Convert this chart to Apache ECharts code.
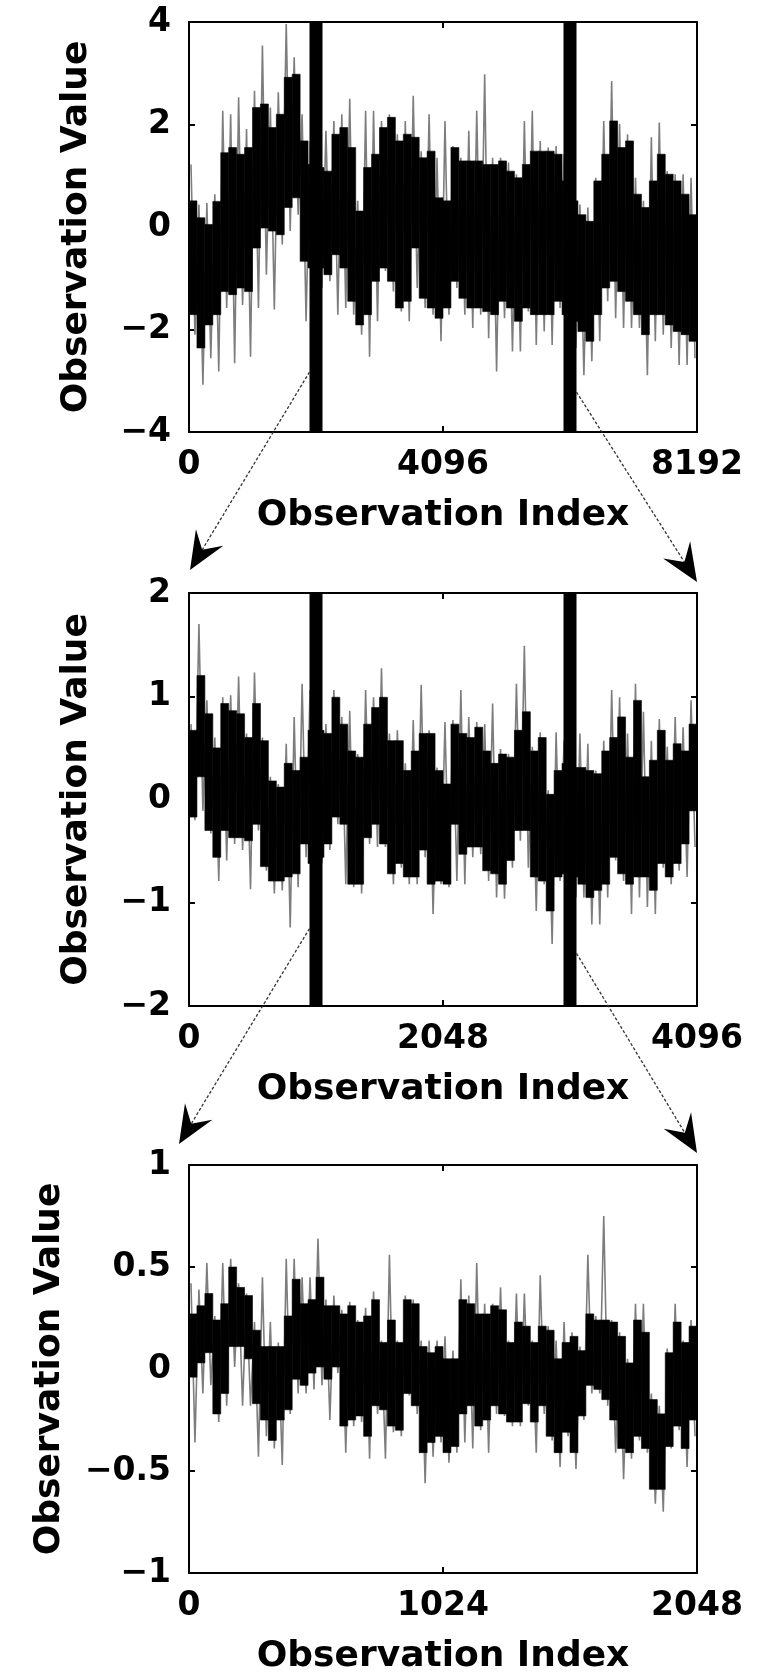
<!DOCTYPE html>
<html><head><meta charset="utf-8">
<script src="https://cdn.jsdelivr.net/npm/echarts@6/dist/echarts.min.js"></script>
<style>html,body{margin:0;padding:0;background:#fff}#c{width:777px;height:1676px}</style>
</head><body><div id="c"></div>
<script>
// ---------- tick labels ----------
const xTicks1 = [0, 4096, 8192];
const yTicks1 = [-4, -2, 0, 2, 4];
const xTicks2 = [0, 2048, 4096];
const yTicks2 = [-2, -1, 0, 1, 2];
const xTicks3 = [0, 1024, 2048];
const yTicks3 = [-1, -0.5, 0, 0.5, 1];
const xTitle = 'Observation Index';
const yTitle = 'Observation Value';
// zoom window markers (observation index)
const zoomBars1 = [2048, 6144];
const zoomBars2 = [1024, 3072];

// ---------- panel 1 (64 equal bins over 0..8192): spike extremes and dense core ----------
const p1SpikeHi = [1.22,0.44,0.47,0.64,2.27,2.20,2.53,1.91,2.66,3.54,2.33,2.63,3.96,3.31,2.20,1.68,1.88,1.88,2.07,2.20,2.50,0.51,2.27,2.27,2.07,2.20,1.81,2.07,2.56,1.48,2.20,1.35,2.07,1.58,1.35,1.88,2.27,2.98,1.35,1.35,1.26,1.03,2.07,2.27,1.68,1.55,1.58,1.42,0.77,0.44,0.38,0.96,2.07,2.85,2.01,1.81,0.96,0.51,1.75,2.04,1.09,1.03,1.03,0.96];
const p1CoreHi  = [0.51,0.18,0.05,0.50,1.45,1.55,1.42,1.55,2.33,2.40,1.94,2.20,2.92,2.98,1.68,1.22,1.16,1.09,1.81,1.94,1.55,0.31,1.16,1.42,1.94,2.14,1.68,1.81,1.75,1.35,1.48,0.57,0.51,1.55,1.29,1.29,1.29,1.22,1.22,1.29,1.09,0.96,1.22,1.48,1.48,1.48,1.42,0.90,0.51,0.24,0.11,0.90,1.42,2.07,1.55,1.68,0.64,0.38,0.90,1.42,1.03,0.90,0.64,0.24];
const p1CoreLo  = [-1.71,-2.36,-1.91,-1.71,-1.26,-1.32,-1.19,-1.26,-0.41,-0.02,-0.08,-0.15,0.38,0.57,-0.67,-0.80,-0.80,-0.93,-0.54,-0.80,-1.45,-1.91,-1.71,-1.06,-0.80,-1.06,-1.58,-1.45,-0.41,-1.39,-1.58,-1.78,-1.58,-1.06,-1.39,-1.58,-1.58,-1.65,-1.71,-1.45,-1.58,-1.84,-1.58,-1.71,-1.71,-1.71,-1.45,-1.71,-1.84,-2.04,-2.23,-1.71,-1.19,-1.06,-1.26,-1.45,-1.71,-2.10,-1.71,-1.71,-1.91,-2.04,-2.10,-2.23];
const p1SpikeLo = [-2.10,-3.08,-2.56,-2.82,-1.58,-2.66,-1.52,-2.53,-1.58,-0.93,-1.61,-0.34,-0.08,0.24,-1.84,-1.84,-1.19,-1.06,-1.71,-1.58,-1.71,-2.10,-2.53,-1.84,-0.86,-1.26,-1.65,-1.84,-1.19,-1.58,-1.71,-2.23,-1.71,-1.19,-1.71,-1.97,-1.71,-2.17,-2.82,-1.78,-2.43,-2.43,-1.65,-2.30,-2.04,-2.30,-1.58,-2.04,-2.36,-2.89,-2.62,-2.23,-1.45,-1.78,-1.97,-1.97,-1.97,-2.89,-2.23,-2.10,-2.36,-2.69,-2.69,-2.56];

// ---------- panel 2 (64 bins over 0..4096) ----------
const p2SpikeHi = [0.73,1.70,0.96,0.60,0.99,1.01,1.19,0.64,1.23,0.60,0.22,0.15,0.54,0.80,1.12,1.06,0.96,0.73,1.06,0.80,0.86,0.44,1.06,0.99,1.27,0.64,0.67,0.35,0.77,1.11,0.67,0.31,0.75,0.77,1.06,0.80,0.75,0.73,0.93,0.49,0.44,1.12,1.49,0.51,0.65,0.09,0.65,0.57,0.64,0.64,0.54,0.28,0.57,1.06,0.99,0.64,1.12,0.85,0.57,0.78,0.51,0.80,0.70,0.96];
const p2CoreHi  = [0.67,1.20,0.83,0.50,0.93,0.86,0.83,0.60,0.93,0.57,0.18,0.12,0.35,0.28,0.41,0.67,0.67,0.64,0.99,0.73,0.47,0.41,0.73,0.89,0.99,0.57,0.57,0.28,0.47,0.64,0.64,0.28,0.15,0.73,0.64,0.60,0.70,0.47,0.35,0.44,0.41,0.67,0.85,0.47,0.60,0.05,0.28,0.35,0.31,0.31,0.28,0.25,0.47,0.60,0.80,0.41,0.96,0.22,0.38,0.67,0.38,0.54,0.47,0.73];
const p2CoreLo  = [-0.17,0.22,-0.30,-0.56,-0.30,-0.37,-0.37,-0.40,-0.24,-0.65,-0.79,-0.79,-0.75,-0.72,-0.43,-0.62,-0.56,-0.43,-0.17,-0.24,-0.82,-0.82,-0.37,-0.24,-0.43,-0.72,-0.62,-0.75,-0.75,-0.49,-0.82,-0.79,-0.82,-0.24,-0.53,-0.46,-0.46,-0.69,-0.72,-0.82,-0.59,-0.30,-0.30,-0.75,-0.79,-1.08,-0.75,-0.72,-0.75,-0.82,-0.95,-0.88,-0.82,-0.56,-0.72,-0.82,-0.75,-0.75,-0.88,-0.62,-0.75,-0.62,-0.43,-0.11];
const p2SpikeLo = [-0.20,-0.11,-0.33,-0.79,-0.59,-0.43,-0.49,-0.87,-0.30,-0.69,-0.91,-0.88,-1.24,-0.85,-0.56,-0.72,-0.62,-0.49,-0.24,-0.82,-0.85,-0.91,-0.43,-0.46,-0.46,-0.82,-0.66,-0.82,-0.82,-0.56,-1.11,-0.82,-0.85,-0.79,-0.82,-0.56,-0.53,-0.79,-0.95,-0.96,-0.66,-0.40,-0.66,-1.08,-0.82,-1.40,-0.79,-0.88,-0.95,-0.95,-1.21,-1.21,-0.95,-0.59,-0.79,-1.11,-0.95,-1.04,-1.11,-0.66,-0.82,-0.69,-0.75,-0.46];

// ---------- panel 3 (64 bins over 0..2048) ----------
const p3SpikeHi = [0.42,0.39,0.52,0.26,0.52,0.54,0.42,0.37,0.23,0.45,0.23,0.13,0.54,0.54,0.45,0.45,0.64,0.34,0.36,0.29,0.33,0.24,0.30,0.38,0.14,0.56,0.14,0.36,0.34,0.14,0.14,0.14,0.16,0.09,0.44,0.36,0.52,0.32,0.32,0.40,0.14,0.37,0.37,0.14,0.46,0.21,0.14,0.23,0.18,0.11,0.56,0.26,0.75,0.24,0.18,0.05,0.32,0.32,-0.12,-0.18,0.10,0.32,0.14,0.24];
const p3CoreHi  = [0.27,0.31,0.37,0.24,0.32,0.50,0.40,0.36,0.19,0.11,0.11,0.11,0.26,0.44,0.32,0.34,0.45,0.31,0.31,0.27,0.31,0.23,0.26,0.34,0.13,0.24,0.13,0.34,0.32,0.11,0.08,0.11,0.05,0.05,0.34,0.32,0.27,0.27,0.31,0.29,0.13,0.23,0.21,0.13,0.21,0.19,0.05,0.13,0.16,0.09,0.27,0.24,0.24,0.23,0.16,0.03,0.24,0.18,-0.15,-0.22,0.08,0.23,0.13,0.21];
const p3CoreLo  = [-0.04,0.03,0.08,-0.22,-0.12,0.11,0.11,0.05,-0.17,-0.25,-0.35,-0.25,-0.20,-0.05,-0.08,-0.02,0.01,-0.05,0.01,-0.28,-0.25,-0.23,-0.33,-0.18,-0.20,-0.28,-0.30,-0.12,-0.18,-0.41,-0.36,-0.33,-0.41,-0.38,-0.22,-0.18,-0.28,-0.25,-0.18,-0.22,-0.26,-0.26,-0.17,-0.26,-0.18,-0.33,-0.41,-0.31,-0.41,-0.23,-0.08,-0.10,-0.15,-0.25,-0.39,-0.41,-0.33,-0.39,-0.59,-0.59,-0.38,-0.28,-0.39,-0.25];
const p3SpikeLo = [-0.36,-0.12,-0.08,-0.26,-0.18,0.01,-0.18,-0.18,-0.43,-0.33,-0.39,-0.47,-0.22,-0.12,-0.12,-0.10,-0.08,-0.25,-0.02,-0.41,-0.28,-0.26,-0.44,-0.22,-0.44,-0.31,-0.33,-0.13,-0.22,-0.56,-0.43,-0.36,-0.46,-0.41,-0.36,-0.39,-0.30,-0.41,-0.22,-0.23,-0.28,-0.28,-0.18,-0.41,-0.22,-0.35,-0.48,-0.33,-0.49,-0.25,-0.12,-0.12,-0.18,-0.41,-0.54,-0.44,-0.35,-0.41,-0.66,-0.70,-0.39,-0.30,-0.48,-0.33];

// ---------- layout ----------
const FONT = 'DejaVu Sans';
const panels = [
  {xt: xTicks1, yt: yTicks1, hi: p1SpikeHi, ch: p1CoreHi, cl: p1CoreLo, lo: p1SpikeLo, bars: zoomBars1, top: 22, height: 410, yGap: 94},
  {xt: xTicks2, yt: yTicks2, hi: p2SpikeHi, ch: p2CoreHi, cl: p2CoreLo, lo: p2SpikeLo, bars: zoomBars2, top: 593, height: 413, yGap: 94},
  {xt: xTicks3, yt: yTicks3, hi: p3SpikeHi, ch: p3CoreHi, cl: p3CoreLo, lo: p3SpikeLo, bars: [], top: 1165, height: 408, yGap: 121}
];

const grids = [], xAxes = [], yAxes = [], series = [];
const lblStyle = {fontFamily: FONT, fontWeight: 'bold', fontSize: 33, color: '#000'};
const nameStyle = {fontFamily: FONT, fontWeight: 'bold', fontSize: 36, color: '#000'};
const axLine = {show: true, onZero: false, lineStyle: {color: '#000', width: 2}};
const axTick = {show: true, inside: true, length: 6, lineStyle: {color: '#000', width: 2}};

panels.forEach((p, g) => {
  const xmin = p.xt[0], xmax = p.xt[p.xt.length - 1];
  const ymin = p.yt[0], ymax = p.yt[p.yt.length - 1];
  grids.push({left: 189, width: 508, top: p.top, height: p.height});
  const xBase = {gridIndex: g, type: 'value', min: xmin, max: xmax, interval: p.xt[1] - p.xt[0],
    axisLine: axLine, axisTick: axTick, splitLine: {show: false}};
  xAxes.push(Object.assign({}, xBase, {position: 'bottom',
    axisLabel: Object.assign({margin: 17, showMinLabel: true, showMaxLabel: true, formatter: v => String(v)}, lblStyle),
    name: xTitle, nameLocation: 'middle', nameGap: 66, nameTextStyle: nameStyle}));
  xAxes.push(Object.assign({}, xBase, {position: 'top', axisLabel: {show: false}}));
  const yBase = {gridIndex: g, type: 'value', min: ymin, max: ymax, interval: p.yt[1] - p.yt[0],
    axisLine: axLine, axisTick: axTick, splitLine: {show: false}};
  yAxes.push(Object.assign({}, yBase, {position: 'left',
    axisLabel: Object.assign({margin: 18, formatter: v => String(v).replace('-', '\u2212')}, lblStyle),
    name: yTitle, nameLocation: 'middle', nameRotate: 90, nameGap: p.yGap, nameTextStyle: nameStyle}));
  yAxes.push(Object.assign({}, yBase, {position: 'right', axisLabel: {show: false}}));

  const n = p.hi.length, w = (xmax - xmin) / n;
  // thin spikes: up to the spike high, down to the spike low in each bin
  const zig = [];
  for (let i = 0; i < n; i++) {
    zig.push([xmin + (i + 0.25) * w, p.hi[i]]);
    zig.push([xmin + (i + 0.75) * w, p.lo[i]]);
  }
  series.push({type: 'line', xAxisIndex: 2 * g, yAxisIndex: 2 * g, data: zig, showSymbol: false, symbol: 'none',
    lineStyle: {color: '#7d7d7d', width: 1.6}, animation: false, silent: true, z: 2});
  // dense black core: one column per bin
  const cols = [];
  for (let i = 0; i < n; i++) cols.push([xmin + i * w, xmin + (i + 1) * w, p.ch[i], p.cl[i]]);
  series.push({type: 'custom', xAxisIndex: 2 * g, yAxisIndex: 2 * g, data: cols, animation: false, silent: true, z: 3,
    encode: {x: [0, 1], y: [2, 3]},
    renderItem: (params, api) => {
      const a = api.coord([api.value(0), api.value(2)]);
      const b = api.coord([api.value(1), api.value(3)]);
      return {type: 'rect', shape: {x: a[0], y: a[1], width: b[0] - a[0], height: b[1] - a[1]},
        style: {fill: '#000', stroke: '#000', lineWidth: 0.6}};
    }});
  // zoom-window bars
  if (p.bars.length) {
    series.push({type: 'custom', xAxisIndex: 2 * g, yAxisIndex: 2 * g, data: p.bars.map(b => [b]), animation: false, silent: true, z: 4,
      encode: {x: 0},
      renderItem: (params, api) => {
        const t = api.coord([api.value(0), ymax]);
        const bt = api.coord([api.value(0), ymin]);
        return {type: 'rect', shape: {x: t[0] - 6.5, y: t[1], width: 13, height: bt[1] - t[1]}, style: {fill: '#000'}};
      }});
  }
});

const chart = echarts.init(document.getElementById('c'), null, {renderer: 'canvas'});
chart.setOption({backgroundColor: '#fff', animation: false, grid: grids, xAxis: xAxes, yAxis: yAxes, series: series});

// ---------- zoom arrows (anchored to data coordinates) ----------
const links = [
  {g: 0, from: [2048, -2.83], side: -1, tg: 1, to: [0, 2], off: [1, -23]},
  {g: 0, from: [6144, -3.22], side: 1, tg: 1, to: [4096, 2], off: [0, -11]},
  {g: 1, from: [1024, -1.25], side: -1, tg: 2, to: [0, 1], off: [-10, -21]},
  {g: 1, from: [3072, -1.49], side: 1, tg: 2, to: [2048, 1], off: [0, -12]}
];
const gfx = [];
links.forEach(l => {
  const s = chart.convertToPixel({xAxisIndex: 2 * l.g, yAxisIndex: 2 * l.g}, l.from);
  s[0] += l.side * 6.5;
  const t = chart.convertToPixel({xAxisIndex: 2 * l.tg, yAxisIndex: 2 * l.tg}, l.to);
  t[0] += l.off[0]; t[1] += l.off[1];
  const dx = t[0] - s[0], dy = t[1] - s[1], len = Math.hypot(dx, dy);
  const ux = dx / len, uy = dy / len, px = -uy, py = ux;
  const L = 38, Wh = 16, notch = 0.62 * L;
  const nb = [t[0] - ux * notch, t[1] - uy * notch];
  gfx.push({type: 'line', shape: {x1: s[0], y1: s[1], x2: nb[0], y2: nb[1]},
    style: {stroke: '#333', lineWidth: 1.3, lineDash: [3, 2]}, z: 10, silent: true});
  gfx.push({type: 'polygon', shape: {points: [
    [t[0], t[1]],
    [t[0] - ux * L + px * Wh, t[1] - uy * L + py * Wh],
    nb,
    [t[0] - ux * L - px * Wh, t[1] - uy * L - py * Wh]
  ]}, style: {fill: '#000'}, z: 10, silent: true});
});
chart.setOption({graphic: gfx});
</script>
</body></html>
